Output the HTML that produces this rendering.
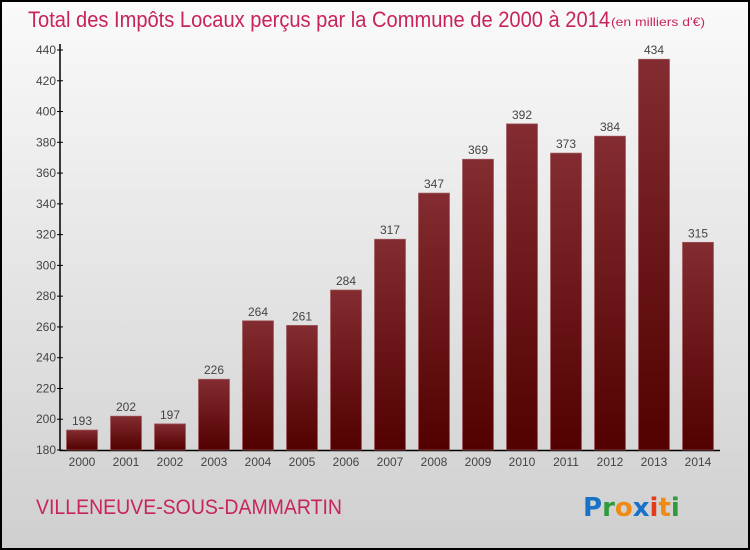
<!DOCTYPE html>
<html><head><meta charset="utf-8"><style>
body{margin:0;width:750px;height:550px;overflow:hidden}
svg{display:block;font-family:"Liberation Sans",sans-serif}
</style></head><body>
<svg width="750" height="550">
<defs>
<linearGradient id="bg" x1="0" y1="0" x2="0" y2="1"><stop offset="0" stop-color="#fafafa"/><stop offset="1" stop-color="#cfcfcf"/></linearGradient>
<linearGradient id="bar" x1="0" y1="0" x2="0" y2="1"><stop offset="0" stop-color="#832c31"/><stop offset="1" stop-color="#520000"/></linearGradient>
</defs>
<rect x="1" y="1" width="748" height="548" fill="url(#bg)" stroke="#000" stroke-width="2"/>
<text x="28" y="27" font-size="22" fill="#c8245a" textLength="582" lengthAdjust="spacingAndGlyphs">Total des Impôts Locaux perçus par la Commune de 2000 à 2014</text>
<text x="611" y="26" font-size="12" fill="#c8245a" textLength="94" lengthAdjust="spacingAndGlyphs">(en milliers d'€)</text>
<g id="plot"></g>
<text x="36" y="514" font-size="21" fill="#c8245a" textLength="306" lengthAdjust="spacingAndGlyphs">VILLENEUVE-SOUS-DAMMARTIN</text>
<g font-size="26" font-weight="bold" font-family="'DejaVu Sans',sans-serif">
<text x="583" y="516"><tspan fill="#1a72c8">P</tspan><tspan fill="#2f9a3c">r</tspan><tspan fill="#f08a12">o</tspan><tspan fill="#1a72c8">x</tspan><tspan fill="#e53a1a">i</tspan><tspan fill="#f08a12">t</tspan><tspan fill="#2f9a3c">i</tspan></text>
</g>
</svg>
<script>
const years=["2000","2001","2002","2003","2004","2005","2006","2007","2008","2009","2010","2011","2012","2013","2014"];
const values=[193,202,197,226,264,261,284,317,347,369,392,373,384,434,315];
const ticks=[180,200,220,240,260,280,300,320,340,360,380,400,420,440];
const NS="http://www.w3.org/2000/svg";
const g=document.getElementById('plot');
const y=v=>450-(v-180)*(400/260);
const x=i=>82+i*44;
function mk(t,a,txt){const e=document.createElementNS(NS,t);for(const k in a)e.setAttribute(k,a[k]);if(txt!==undefined)e.textContent=txt;g.appendChild(e);return e;}
let ax=mk('line',{x1:60,y1:y(440)-6,x2:60,y2:451,stroke:'#000','stroke-width':1.5});


let bx=mk('line',{x1:60,y1:450.5,x2:720,y2:450.5,stroke:'#000','stroke-width':1.5});


ticks.forEach(t=>{
 const tk=mk('line',{x1:57,x2:63,y1:y(t),y2:y(t),stroke:'#000'});
 
 
 const l=mk('text',{x:56,y:y(t)+4,'text-anchor':'end','font-size':12,fill:'#444'},t);
 
 
});
values.forEach((v,i)=>{
 const r=mk('rect',{x:x(i)-15.5,y:y(v),width:31,height:450-y(v),fill:'url(#bar)',stroke:'#a05a5e','stroke-width':0.7});
 
 
 const vl=mk('text',{x:x(i),y:y(v)-5,'text-anchor':'middle','font-size':12,fill:'#444'},v);
 
 
 const xl=mk('text',{x:x(i),y:466,'text-anchor':'middle','font-size':12,fill:'#444'},years[i]);
 
 
});
</script>
</body></html>
